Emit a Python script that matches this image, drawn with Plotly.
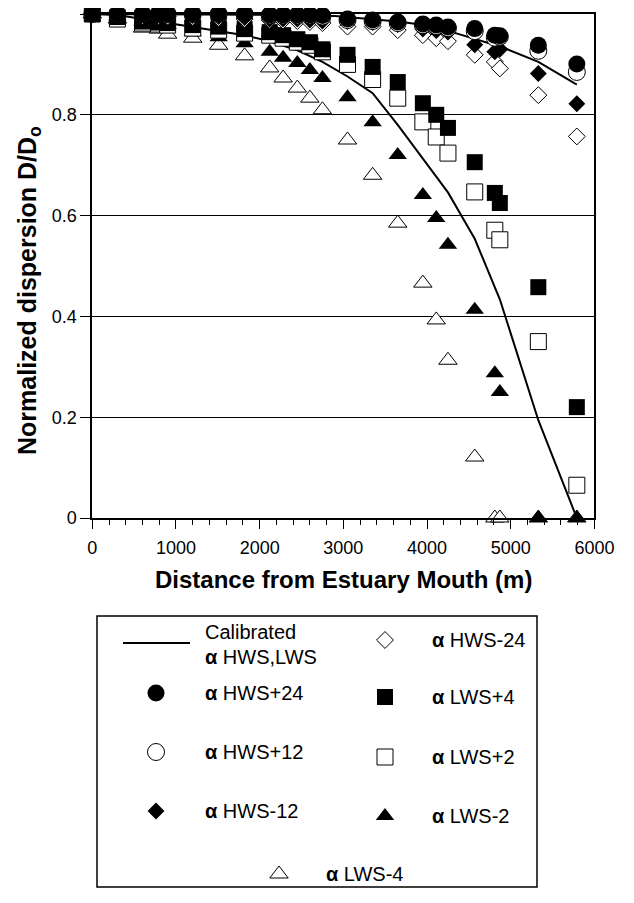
import plotly.graph_objects as go

# page pixel geometry (the page body has an 8px margin, so the figure is offset)
PW, PH = 634, 903
OFF = 8
W, H = PW - OFF, PH - OFF

# ---------------- data ----------------
dist = [0, 300, 600, 790, 900, 1200, 1510, 1820, 2120, 2280, 2450, 2600, 2750,
        3050, 3350, 3650, 3950, 4110, 4250, 4570, 4810, 4870, 5330, 5790]

hws_p24 = [1, 1, 1, 1, 1, 1, 1, 1, 0.998, 0.998, 0.998, 0.998, 0.997,
           0.99, 0.988, 0.984, 0.98, 0.978, 0.974, 0.971, 0.958, 0.957, 0.938, 0.901]
hws_p12 = [1, 1, 1, 1, 1, 1, 1, 1, 0.997, 0.997, 0.997, 0.997, 0.995,
           0.988, 0.986, 0.982, 0.978, 0.976, 0.972, 0.966, 0.953, 0.955, 0.927, 0.885]
hws_m12 = [1, 1, 0.998, 0.998, 0.998, 0.997, 0.995, 0.993, 0.99, 0.99, 0.99, 0.988, 0.986,
           0.985, 0.983, 0.979, 0.97, 0.967, 0.964, 0.939, 0.925, 0.93, 0.882, 0.822]
hws_m24 = [1, 1, 0.996, 0.996, 0.995, 0.994, 0.992, 0.99, 0.988, 0.987, 0.986, 0.984, 0.982,
           0.975, 0.975, 0.968, 0.958, 0.952, 0.946, 0.919, 0.905, 0.892, 0.839, 0.757]
lws_p4 = [1, 0.994, 0.985, 0.983, 0.982, 0.978, 0.975, 0.97, 0.964, 0.958, 0.95, 0.944, 0.93,
          0.919, 0.895, 0.865, 0.823, 0.80, 0.774, 0.706, 0.645, 0.625, 0.458, 0.22]
lws_p2 = [1, 0.99, 0.982, 0.98, 0.978, 0.972, 0.968, 0.962, 0.958, 0.952, 0.944, 0.938, 0.925,
          0.90, 0.87, 0.833, 0.786, 0.756, 0.724, 0.647, 0.571, 0.552, 0.35, 0.065]
lws_m2 = [1, 0.995, 0.985, 0.982, 0.978, 0.964, 0.954, 0.942, 0.925, 0.913, 0.903, 0.889, 0.873,
          0.835, 0.785, 0.72, 0.641, 0.595, 0.542, 0.413, 0.287, 0.25, 0, 0]
lws_m4 = [1, 0.99, 0.972, 0.97, 0.96, 0.952, 0.938, 0.917, 0.893, 0.873, 0.853, 0.833, 0.81,
          0.75, 0.68, 0.585, 0.466, 0.393, 0.313, 0.121, 0, 0, 0, 0]

calib_hws_x = [0, 1500, 2450, 2900, 3350, 3650, 4100, 4360, 4900, 5330, 5790]
calib_hws_y = [1, 0.999, 0.998, 0.996, 0.99, 0.985, 0.975, 0.961, 0.934, 0.905, 0.86]
calib_lws_x = [0, 300, 600, 900, 1200, 1510, 1820, 2120, 2450, 2750, 3050, 3350, 3650,
               3950, 4250, 4570, 4870, 5330, 5790]
calib_lws_y = [1, 0.998, 0.99, 0.982, 0.975, 0.967, 0.958, 0.946, 0.928, 0.905, 0.876,
               0.843, 0.78, 0.713, 0.646, 0.554, 0.434, 0.194, 0]

x_ticks = [0, 1000, 2000, 3000, 4000, 5000, 6000]
y_ticks = [0, 0.2, 0.4, 0.6, 0.8, 1]
y_ticktext = ["0", "0.2", "0.4", "0.6", "0.8", "1"]

series_names = ["α HWS+24", "α HWS+12", "α HWS-12", "α HWS-24",
                "α LWS+4", "α LWS+2", "α LWS-2", "α LWS-4"]
series_vals = [hws_p24, hws_p12, hws_m12, hws_m24, lws_p4, lws_p2, lws_m2, lws_m4]

# ---------------- helpers ----------------
def px(x):
    return (x - OFF) / W


def py(y):
    return 1 - (y - OFF) / H


FONT = "Liberation Sans, Arial, Helvetica, sans-serif"
styles = [
    dict(symbol="circle", color="black", size=17, lw=0),
    dict(symbol="circle", color="white", size=17, lw=1),
    dict(symbol="diamond", color="black", size=13, lw=0),
    dict(symbol="diamond", color="white", size=13, lw=1),
    dict(symbol="square", color="black", size=16, lw=0),
    dict(symbol="square", color="white", size=16, lw=1),
    dict(symbol="triangle-up", color="black", size=16, lw=0),
    dict(symbol="triangle-up", color="white", size=16, lw=1),
]

fig = go.Figure()

# calibrated lines
for cx, cy in [(calib_hws_x, calib_hws_y), (calib_lws_x, calib_lws_y)]:
    fig.add_trace(go.Scatter(x=cx, y=cy, mode="lines", line=dict(color="black", width=2),
                             showlegend=False, cliponaxis=False, hoverinfo="skip"))

# markers (last series first so filled ones sit on top of the hollow ones)
for i in reversed(range(len(series_vals))):
    st = styles[i]
    fig.add_trace(go.Scatter(
        x=dist, y=series_vals[i], mode="markers", name=series_names[i],
        marker=dict(symbol=st["symbol"], color=st["color"], size=st["size"],
                    line=dict(color="black", width=st["lw"])),
        showlegend=False, cliponaxis=False))

# ---------------- legend (custom box), page pixel coords ----------------
LX0, LX1, LY0, LY1 = 97, 537, 616, 887
leg_items = [
    (156, 693, 206, 693, 0),
    (156, 752, 206, 752, 1),
    (156, 811, 206, 811, 2),
    (385, 640, 433, 640, 3),
    (385, 697, 433, 697, 4),
    (385, 757, 433, 757, 5),
    (385, 816, 433, 816, 6),
    (279, 874, 327, 874, 7),
]
for mx, my, tx, ty, i in leg_items:
    st = styles[i]
    fig.add_trace(go.Scatter(
        x=[mx], y=[my], xaxis="x2", yaxis="y2", mode="markers",
        marker=dict(symbol=st["symbol"], color=st["color"], size=st["size"],
                    line=dict(color="black", width=st["lw"])),
        showlegend=False, cliponaxis=False, hoverinfo="skip"))
fig.add_trace(go.Scatter(x=[123, 190], y=[643, 643], xaxis="x2", yaxis="y2", mode="lines",
                         line=dict(color="black", width=2), showlegend=False,
                         cliponaxis=False, hoverinfo="skip"))

LEGFONT = dict(family=FONT, size=20, color="black")
annotations = []
for mx, my, tx, ty, i in leg_items:
    nm = series_names[i].replace("α", "<b>α</b>")
    annotations.append(dict(x=tx - 3, y=ty, xref="x2", yref="y2", text=nm, showarrow=False,
                            xanchor="left", yanchor="middle", font=LEGFONT))
annotations.append(dict(x=203, y=632, xref="x2", yref="y2", text="Calibrated",
                        showarrow=False, xanchor="left", yanchor="middle", font=LEGFONT))
annotations.append(dict(x=203, y=657, xref="x2", yref="y2", text="<b>α</b> HWS,LWS",
                        showarrow=False, xanchor="left", yanchor="middle", font=LEGFONT))

# axis titles
annotations.append(dict(x=px(343), y=py(579), xref="paper", yref="paper",
                        text="<b>Distance from Estuary Mouth (m)</b>", showarrow=False,
                        xanchor="center", yanchor="middle",
                        font=dict(family=FONT, size=24, color="black")))
annotations.append(dict(x=px(29), y=py(291), xref="paper", yref="paper",
                        text="<b>Normalized dispersion D/D<sub>o</sub></b>", showarrow=False,
                        textangle=-90, xanchor="center", yanchor="middle",
                        font=dict(family=FONT, size=25, color="black")))

fig.update_layout(
    width=W, height=H,
    margin=dict(l=0, r=0, t=0, b=0),
    paper_bgcolor="white", plot_bgcolor="rgba(0,0,0,0)",
    font=dict(family=FONT, size=18, color="black"),
    showlegend=False,
    xaxis=dict(domain=[px(92.3), px(594.4)], range=[0, 6000], tickvals=x_ticks,
               ticks="outside", ticklen=9, tickwidth=1, tickcolor="black",
               showline=True, linewidth=2, linecolor="black", mirror=True,
               showgrid=False, zeroline=False, automargin=False,
               ticklabelstandoff=3,
               tickfont=dict(family=FONT, size=18, color="black"),
               minor=dict(dtick=200, ticks="outside", ticklen=5, tickwidth=1,
                          tickcolor="black", showgrid=False)),
    yaxis=dict(domain=[py(518), py(14)], range=[0, 1], tickvals=y_ticks,
               ticktext=y_ticktext, ticks="outside", ticklen=10, tickwidth=1,
               tickcolor="black", showline=True, linewidth=2, linecolor="black",
               mirror=True, showgrid=True, gridcolor="black", gridwidth=1,
               zeroline=False, automargin=False,
               tickfont=dict(family=FONT, size=18, color="black")),
    xaxis2=dict(domain=[px(LX0), px(LX1)], range=[LX0, LX1], visible=False,
                fixedrange=True),
    yaxis2=dict(domain=[py(LY1), py(LY0)], range=[LY1, LY0], visible=False,
                fixedrange=True),
    shapes=[dict(type="rect", xref="paper", yref="paper",
                 x0=px(LX0), x1=px(LX1), y0=py(LY1), y1=py(LY0),
                 line=dict(color="black", width=1.5), fillcolor="rgba(0,0,0,0)")],
    annotations=annotations,
)

fig.write_html("out.html")
